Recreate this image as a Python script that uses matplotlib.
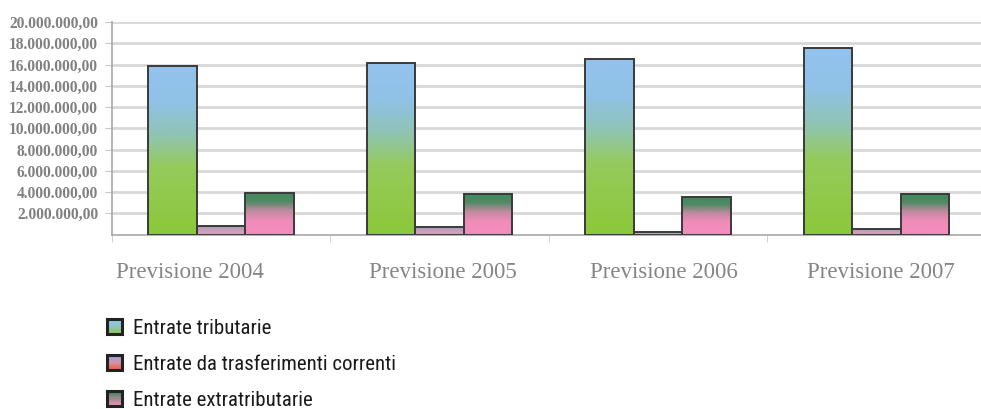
import numpy as np
import matplotlib
matplotlib.use("Agg")
import matplotlib.pyplot as plt
from matplotlib import font_manager as fm
from matplotlib.colors import LinearSegmentedColormap
from matplotlib.patches import Rectangle
from matplotlib.legend_handler import HandlerBase
from matplotlib.ticker import FuncFormatter
from matplotlib.transforms import ScaledTranslation

categories = ['Previsione 2004', 'Previsione 2005', 'Previsione 2006', 'Previsione 2007']
series_names = ['Entrate tributarie', 'Entrate da trasferimenti correnti', 'Entrate extratributarie']
tributarie = [15.83e6, 16.15e6, 16.55e6, 17.59e6]
trasferimenti = [0.78e6, 0.71e6, 0.20e6, 0.53e6]
extratributarie = [3.94e6, 3.85e6, 3.53e6, 3.85e6]
yticks = [2e6, 4e6, 6e6, 8e6, 10e6, 12e6, 14e6, 16e6, 18e6, 20e6]

# bottom -> top gradients
cmaps = [
    LinearSegmentedColormap.from_list('trib', [(0, '#8cc83a'), (0.4, '#95cb5c'), (0.6, '#8fc4b8'), (0.78, '#8fc2e6'), (1, '#94c3ee')]),
    LinearSegmentedColormap.from_list('trasf', [(0, '#d8a2bc'), (1, '#a99ab6')]),
    LinearSegmentedColormap.from_list('extra', [(0, '#f48dbd'), (0.32, '#f08cb8'), (0.55, '#c08aa0'), (0.78, '#4f8a64'), (1, '#3d8a5c')]),
]
legend_cmaps = [
    LinearSegmentedColormap.from_list('l1', ['#8cc83a', '#8fc4c8', '#94c6f0']),
    LinearSegmentedColormap.from_list('l2', ['#e8603a', '#d890a8', '#8ca8e8']),
    LinearSegmentedColormap.from_list('l3', ['#f090bc', '#a08890', '#3e8a5e']),
]

# pick a narrow sans if one is installed
legend_font = None
for fam, stretch in [('Liberation Sans Narrow', 'normal'), ('Arial Narrow', 'normal'),
                     ('Roboto Condensed', 'normal'), ('DejaVu Sans', 'condensed'),
                     ('Noto Sans', 'condensed'), ('Open Sans', 'condensed')]:
    fp = fm.FontProperties(family=fam, stretch=stretch)
    try:
        path = fm.findfont(fp, fallback_to_default=False)
    except Exception:
        continue
    if 'ondensed' in path or 'arrow' in path:
        legend_font = fm.FontProperties(fname=path, size=15)
        break
if legend_font is None:
    legend_font = fm.FontProperties(family='Liberation Sans', size=13)

fig = plt.figure(figsize=(9.81, 4.09), dpi=100)
ax = fig.add_axes([112 / 981, 174.5 / 409, 873.5 / 981, 212.5 / 409])

x = np.arange(len(categories))
w = 0.222
grad = np.linspace(0, 1, 256).reshape(-1, 1)
for k, vals in enumerate([tributarie, trasferimenti, extratributarie]):
    bars = ax.bar(x + (k - 1) * w, vals, w, facecolor='none', edgecolor='#3a3a3a', linewidth=1.4, zorder=3)
    for b in bars:
        x0, y0 = b.get_x(), b.get_y()
        im = ax.imshow(grad, cmap=cmaps[k], origin='lower', aspect='auto',
                       extent=[x0, x0 + b.get_width(), y0, y0 + b.get_height()], zorder=2)
        im.set_clip_path(b)

ax.set_xlim(-0.5, len(categories) - 0.5)
ax.set_ylim(0, 20e6)
ax.set_yticks(yticks)
ax.yaxis.set_major_formatter(FuncFormatter(lambda v, p: f"{v:,.2f}".replace(',', 'X').replace('.', ',').replace('X', '.')))
ax.grid(axis='y', color='#d8d8d8', linewidth=2, zorder=0)
ax.set_axisbelow(True)
for s in ['top', 'right']:
    ax.spines[s].set_visible(False)
ax.spines['left'].set_color('#a8a8a8')
ax.spines['bottom'].set_color('#a8a8a8')
ax.spines['left'].set_linewidth(1.2)
ax.spines['bottom'].set_linewidth(1.2)

ax.set_xticks(x)
ax.set_xticklabels(categories)
ax.set_xticks(np.arange(len(categories) + 1) - 0.5, minor=True)
ax.tick_params(axis='x', which='major', length=0, pad=20)
ax.tick_params(axis='x', which='minor', length=5, color='#c8c8c8')
ax.tick_params(axis='y', length=5, color='#c8c8c8', pad=5)
# labels are not quite centred in the original (first one sits further left)
label_shift_px = [-31, 3, 6, 5]
for t, dx in zip(ax.get_xticklabels(), label_shift_px):
    t.set_fontfamily('Liberation Serif')
    t.set_fontsize(16.5)
    t.set_color('#858585')
    t.set_transform(t.get_transform() + ScaledTranslation(dx / 100, 0, fig.dpi_scale_trans))
for t in ax.get_yticklabels():
    t.set_fontfamily('Liberation Serif')
    t.set_fontsize(11.2)
    t.set_color('#808080')
    t.set_fontweight('bold')


class GradHandler(HandlerBase):
    def __init__(self, cmap):
        super().__init__()
        self.cmap = cmap

    def create_artists(self, legend, orig_handle, xdescent, ydescent, width, height, fontsize, trans):
        side = min(width, height)
        x0 = -xdescent + (width - side) / 2
        y0 = -ydescent + (height - side) / 2
        arts = []
        n = 12
        for i in range(n):
            arts.append(Rectangle((x0, y0 + side * i / n), side, side / n + 0.3,
                                  facecolor=self.cmap(i / (n - 1)), edgecolor='none', transform=trans))
        arts.append(Rectangle((x0, y0), side, side, facecolor='none', edgecolor='#222222',
                              linewidth=2.2, transform=trans))
        return arts


handles = [Rectangle((0, 0), 1, 1) for _ in series_names]
fig.legend(handles, series_names, loc='upper left', bbox_to_anchor=(88 / 981, 1 - 300 / 409),
           frameon=False, prop=legend_font, handlelength=0.75, handleheight=0.75, handletextpad=0.5,
           labelspacing=0.82,
           handler_map={h: GradHandler(c) for h, c in zip(handles, legend_cmaps)},
           labelcolor='#1a1a1a')

fig.savefig('out.png', dpi=100)
